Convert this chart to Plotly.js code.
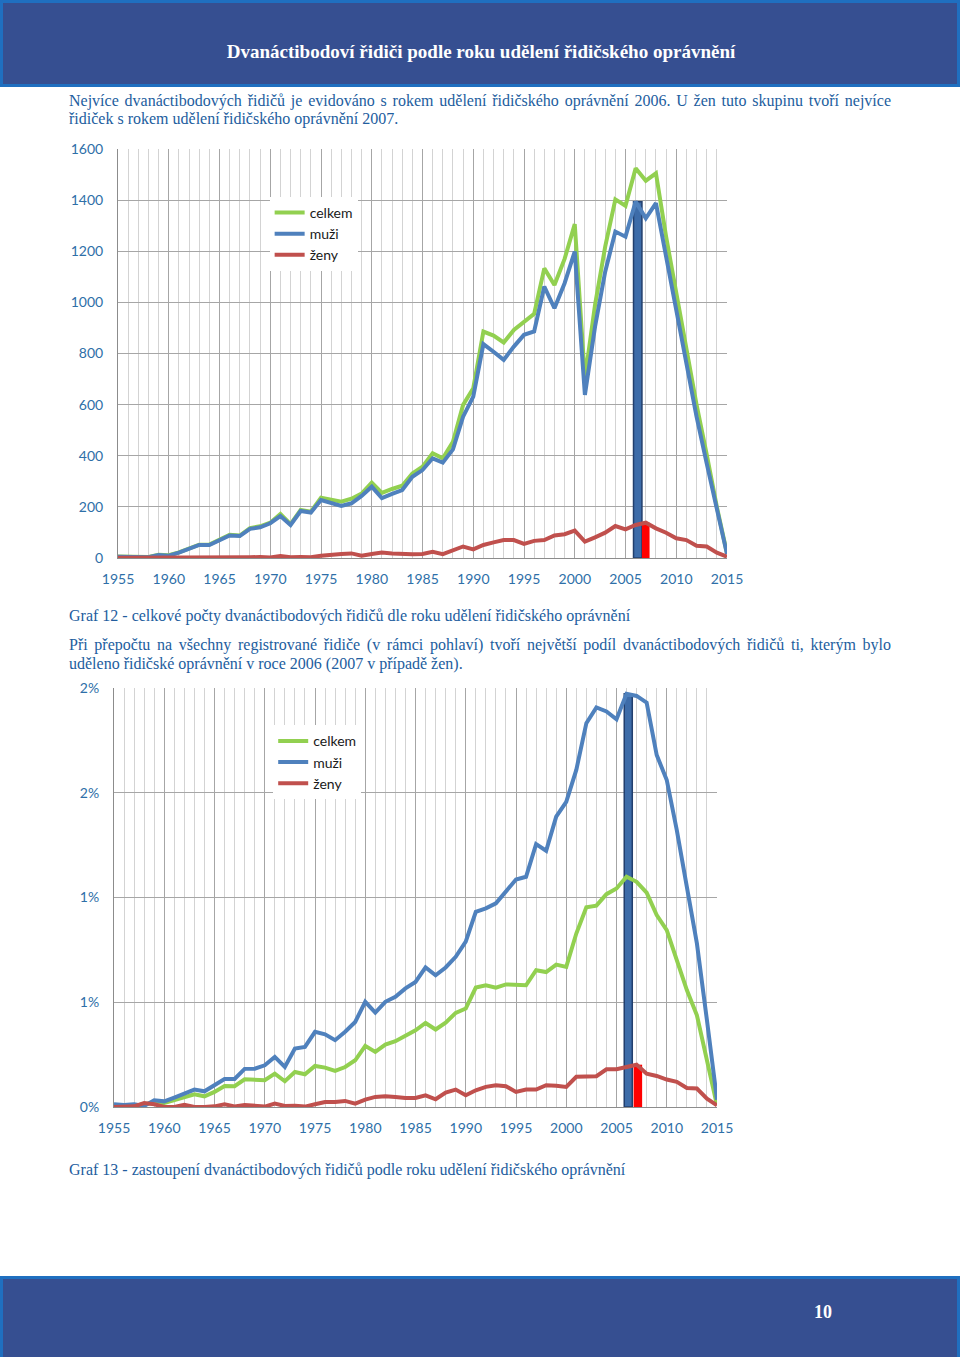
<!DOCTYPE html>
<html>
<head>
<meta charset="utf-8">
<script src="https://cdn.plot.ly/plotly-3.0.1.min.js"></script>
<style>
  html, body { margin:0; padding:0; background:#ffffff; }
  body { width:960px; height:1357px; position:relative; overflow:hidden; }
  .band { position:absolute; left:0; width:954px; background:#364f91; border:3px solid #1f6fc0; }
  .hdr { top:0; height:81px; }
  .ftr { top:1276px; height:81px; border-bottom:none; }
  .hdrtext { position:absolute; left:0; width:962px; top:40px; text-align:center; color:#ffffff;
    font-family:"Liberation Serif", serif; font-weight:bold; font-size:19px; line-height:24px; }
  .pnum { position:absolute; left:805px; width:36px; top:1300px; text-align:center; color:#ffffff;
    font-family:"Liberation Serif", serif; font-weight:bold; font-size:18px; line-height:24px; }
  .txt { position:absolute; left:69px; color:#225d9e; font-family:"Liberation Serif", serif;
    font-size:16px; line-height:18px; white-space:nowrap; }
  .just { width:822px; text-align:justify; text-align-last:justify; white-space:normal; }
  .plot { position:absolute; left:0; width:960px; }
</style>
</head>
<body>
<div class="band hdr"></div>
<div class="hdrtext">Dvanáctibodoví řidiči podle roku udělení řidičského oprávnění</div>

<div class="txt just" style="top:92px;">Nejvíce dvanáctibodových řidičů je evidováno s rokem udělení řidičského oprávnění 2006. U žen tuto skupinu tvoří nejvíce</div>
<div class="txt" style="top:110px;">řidiček s rokem udělení řidičského oprávnění 2007.</div>

<div id="chart1" class="plot" style="top:130px; height:470px;"></div>

<div class="txt" style="top:607px;">Graf 12 - celkové počty dvanáctibodových řidičů dle roku udělení řidičského oprávnění</div>
<div class="txt just" style="top:636px;">Při přepočtu na všechny registrované řidiče (v rámci pohlaví) tvoří největší podíl dvanáctibodových řidičů ti, kterým bylo</div>
<div class="txt" style="top:655px;">uděleno řidičské oprávnění v roce 2006 (2007 v případě žen).</div>

<div id="chart2" class="plot" style="top:670px; height:480px;"></div>

<div class="txt" style="top:1161px;">Graf 13 - zastoupení dvanáctibodových řidičů podle roku udělení řidičského oprávnění</div>

<div class="band ftr"></div>
<div class="pnum">10</div>

<script>
// ---- categories ----
const years = [1955,1956,1957,1958,1959,1960,1961,1962,1963,1964,1965,1966,1967,1968,1969,
  1970,1971,1972,1973,1974,1975,1976,1977,1978,1979,1980,1981,1982,1983,1984,1985,1986,1987,
  1988,1989,1990,1991,1992,1993,1994,1995,1996,1997,1998,1999,2000,2001,2002,2003,2004,2005,
  2006,2007,2008,2009,2010,2011,2012,2013,2014,2015];

const seriesNames = ["celkem", "muži", "ženy"];

// ---- Graf 12: counts ----
const countCelkem = [6,5,4,4,13,11,22,36,52,53,70,91,88,117,124,
  138,172,132,188,181,236,228,220,232,252,295,255,270,283,331,357,410,390,
  455,599,664,886,870,843,892,925,955,1133,1068,1170,1306,702,990,1218,1403,1378,
  1525,1476,1505,1257,1036,835,600,405,200,18];
const countMuzi = [5,4,3,3,12,9,21,34,51,51,68,88,86,114,120,
  136,164,129,184,178,227,214,204,214,243,279,234,251,266,318,344,390,373,
  425,553,631,837,807,775,827,873,886,1062,977,1075,1199,638,905,1120,1277,1257,
  1394,1329,1388,1179,970,775,553,370,188,15];
const countZeny = [1,1,1,0,1,2,1,2,1,2,2,3,2,3,4,
  2,8,3,4,3,9,14,16,18,9,16,21,18,16,15,16,24,15,
  31,45,34,51,61,70,70,55,67,70,88,93,107,64,81,99,125,112,
  129,138,116,99,77,70,48,45,21,5];

// highlighted maxima (Graf 12)
const hiMuziYear = [2006];
const hiMuziCount = [1394];
const hiZenyYear = [2007];
const hiZenyCount = [138];

// ---- Graf 13: share in % ----
const shareCelkem = [0.005,0.005,0.006,0.013,0.019,0.019,0.032,0.048,0.061,0.051,0.072,0.100,0.099,0.132,0.128,
  0.128,0.159,0.123,0.167,0.156,0.196,0.188,0.172,0.191,0.223,0.292,0.263,0.298,0.314,0.342,0.366,0.401,0.370,
  0.403,0.449,0.470,0.570,0.581,0.570,0.585,0.585,0.581,0.653,0.644,0.680,0.669,0.828,0.953,0.961,1.016,1.043,
  1.099,1.075,1.023,0.916,0.844,0.701,0.558,0.438,0.223,0.008];
const shareMuzi = [0.013,0.010,0.013,0.005,0.032,0.027,0.045,0.064,0.083,0.075,0.104,0.134,0.134,0.182,0.183,
  0.199,0.239,0.191,0.279,0.287,0.359,0.347,0.319,0.359,0.406,0.502,0.451,0.502,0.526,0.566,0.597,0.666,0.629,
  0.666,0.717,0.789,0.932,0.948,0.972,1.027,1.086,1.099,1.255,1.223,1.386,1.457,1.609,1.832,1.907,1.888,1.851,
  1.972,1.962,1.930,1.680,1.561,1.322,1.051,0.781,0.414,0.035];
const shareZeny = [0.000,0.000,0.003,0.019,0.013,0.000,0.000,0.011,0.000,0.000,0.003,0.013,0.003,0.010,0.006,
  0.002,0.016,0.005,0.006,0.002,0.013,0.024,0.024,0.029,0.016,0.035,0.048,0.051,0.048,0.043,0.043,0.056,0.037,
  0.069,0.083,0.056,0.080,0.096,0.104,0.099,0.072,0.083,0.083,0.104,0.101,0.096,0.144,0.147,0.147,0.180,0.180,
  0.191,0.202,0.159,0.148,0.131,0.120,0.091,0.088,0.040,0.008];

const hiMuziShare = [1.972];
const hiZenyShare = [0.202];

// tick labels
const xTickVals = [1955,1960,1965,1970,1975,1980,1985,1990,1995,2000,2005,2010,2015];
const y1TickVals = [0,200,400,600,800,1000,1200,1400,1600];
const y2TickVals = [0,0.5,1,1.5,2];
const y2TickText = ["0%","1%","1%","2%","2%"];

// ---- styles ----
const colors = ["#92d050", "#4f81bd", "#c0504d"];
const tickColor = "#2e6fa8";
const font = {family: "Lato, 'Open Sans', sans-serif", size: 14, color: tickColor};

function lineTrace(y, i) {
  return {x: years, y: y, type: "scatter", mode: "lines", name: seriesNames[i],
    line: {color: colors[i], width: 4}, hoverinfo: "skip"};
}

function xaxis() {
  return {range: [1955, 2015], tickvals: xTickVals, showgrid: true, gridcolor: "#a6a6a6", gridwidth: 1,
    minor: {dtick: 1, tick0: 1955, showgrid: true, gridcolor: "#d3d3d3", gridwidth: 1},
    showline: true, linecolor: "#8c8c8c", linewidth: 1, zeroline: false,
    ticks: "", tickfont: font, ticklabelstandoff: 8, fixedrange: true};
}

function yaxis(tv, tt, rng) {
  const a = {range: rng, tickvals: tv, showgrid: true, gridcolor: "#a6a6a6", gridwidth: 1,
    showline: true, linecolor: "#8c8c8c", linewidth: 1, zeroline: false,
    ticks: "", tickfont: font, ticklabelstandoff: 11, fixedrange: true};
  if (tt) a.ticktext = tt;
  return a;
}

function legend(x, y) {
  return {x: x, y: y, xanchor: "left", yanchor: "top", bgcolor: "#ffffff", borderwidth: 0,
    font: {family: "Lato, 'Open Sans', sans-serif", size: 14, color: "#1a1a1a"}, traceorder: "normal"};
}

// ---- Graf 12 ----
const data1 = [
  lineTrace(countCelkem, 0), lineTrace(countMuzi, 1), lineTrace(countZeny, 2),
  {x: hiMuziYear, y: hiMuziCount, type: "bar", width: 0.83, offset: -0.21, showlegend: false,
    marker: {color: "#3d6ca9", line: {color: "#223f6d", width: 1.5}}, hoverinfo: "skip"},
  {x: hiZenyYear, y: hiZenyCount, type: "bar", width: 0.75, offset: -0.38, showlegend: false,
    marker: {color: "#ff0000", line: {width: 0}}, hoverinfo: "skip"}
];
const layout1 = {
  width: 960, height: 470, margin: {l: 118, r: 233, t: 19, b: 42},
  paper_bgcolor: "rgba(0,0,0,0)", plot_bgcolor: "#ffffff",
  xaxis: xaxis(), yaxis: yaxis(y1TickVals, null, [0, 1600]),
  legend: legend(0.249, 0.883), barmode: "overlay", showlegend: true
};

// ---- Graf 13 ----
const data2 = [
  lineTrace(shareCelkem, 0), lineTrace(shareMuzi, 1), lineTrace(shareZeny, 2),
  {x: hiMuziYear, y: hiMuziShare, type: "bar", width: 0.8, offset: -0.23, showlegend: false,
    marker: {color: "#3d6ca9", line: {color: "#223f6d", width: 1.5}}, hoverinfo: "skip"},
  {x: hiZenyYear, y: hiZenyShare, type: "bar", width: 0.85, offset: -0.3, showlegend: false,
    marker: {color: "#ff0000", line: {width: 0}}, hoverinfo: "skip"}
];
const layout2 = {
  width: 960, height: 480, margin: {l: 114, r: 243, t: 18, b: 43},
  paper_bgcolor: "rgba(0,0,0,0)", plot_bgcolor: "#ffffff",
  xaxis: xaxis(), yaxis: yaxis(y2TickVals, y2TickText, [0, 2]),
  legend: legend(0.264, 0.911), barmode: "overlay", showlegend: true
};

const cfg = {staticPlot: true, displayModeBar: false};
Plotly.newPlot("chart1", data1, layout1, cfg);
Plotly.newPlot("chart2", data2, layout2, cfg);
</script>
</body>
</html>
